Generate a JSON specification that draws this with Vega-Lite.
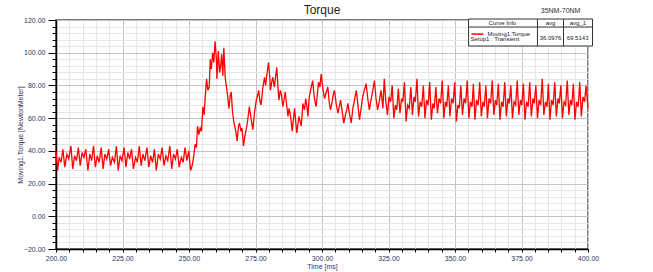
{
"$schema": "https://vega.github.io/schema/vega-lite/v6.json",
"width": 532,
"height": 229,
"autosize": "none",
"padding": {"left": 56, "top": 20, "right": 65, "bottom": 23},
"background": "white",
"config": {"view": {"stroke": "#4d4d4d", "strokeWidth": 1.5}, "font": "Liberation Sans"},
"title": {"text": "Torque", "fontSize": 12, "fontWeight": "normal", "color": "#222222", "anchor": "middle", "offset": -10, "frame": "group", "font": "Liberation Sans"},
"layer": [
{
"data": {"values": [
{"t":200.0,"v":40},{"t":200.6,"v":28},{"t":201.2,"v":36},{"t":201.9,"v":33},{"t":202.6,"v":41},{"t":203.3,"v":30},{"t":204.1,"v":38},{"t":204.8,"v":35},{"t":205.6,"v":43},{"t":206.3,"v":29},{"t":207.0,"v":37},{"t":207.7,"v":34},{"t":208.4,"v":42},{"t":209.1,"v":31},{"t":209.8,"v":39},{"t":210.5,"v":36},{"t":211.2,"v":41},{"t":212.0,"v":28},{"t":212.7,"v":38},{"t":213.4,"v":34},{"t":214.1,"v":43},{"t":214.8,"v":30},{"t":215.5,"v":37},{"t":216.2,"v":33},{"t":217.0,"v":42},{"t":217.7,"v":29},{"t":218.4,"v":38},{"t":219.1,"v":35},{"t":219.8,"v":41},{"t":220.5,"v":31},{"t":221.2,"v":36},{"t":222.0,"v":33},{"t":222.7,"v":43},{"t":223.4,"v":28},{"t":224.1,"v":37},{"t":224.8,"v":34},{"t":225.6,"v":42},{"t":226.3,"v":30},{"t":227.0,"v":39},{"t":227.7,"v":35},{"t":228.4,"v":41},{"t":229.1,"v":29},{"t":229.9,"v":36},{"t":230.6,"v":33},{"t":231.3,"v":43},{"t":232.0,"v":31},{"t":232.7,"v":38},{"t":233.4,"v":34},{"t":234.2,"v":42},{"t":234.9,"v":30},{"t":235.6,"v":37},{"t":236.3,"v":33},{"t":237.0,"v":41},{"t":237.7,"v":28},{"t":238.5,"v":38},{"t":239.2,"v":35},{"t":239.9,"v":42},{"t":240.6,"v":31},{"t":241.3,"v":37},{"t":242.0,"v":34},{"t":242.8,"v":43},{"t":243.5,"v":29},{"t":244.2,"v":38},{"t":244.9,"v":35},{"t":245.6,"v":41},{"t":246.3,"v":30},{"t":247.1,"v":36},{"t":247.8,"v":33},{"t":248.5,"v":42},{"t":249.2,"v":34},{"t":249.9,"v":40},{"t":250.6,"v":28},{"t":251.2,"v":31},
{"t":251.8,"v":37},{"t":252.3,"v":44},{"t":252.8,"v":42},{"t":253.2,"v":55},{"t":253.7,"v":50},{"t":254.2,"v":54},{"t":254.7,"v":52},{"t":255.2,"v":67},{"t":255.7,"v":62},{"t":256.1,"v":73},{"t":256.6,"v":84},{"t":257.1,"v":77},{"t":257.6,"v":79},{"t":258.0,"v":96},{"t":258.4,"v":90},{"t":258.9,"v":100},{"t":259.3,"v":94},{"t":259.8,"v":107},{"t":260.3,"v":96},{"t":260.5,"v":84},{"t":261.0,"v":101},{"t":261.5,"v":88},{"t":261.9,"v":92},{"t":262.3,"v":99},{"t":262.7,"v":86},{"t":263.1,"v":103},{"t":263.6,"v":85},{"t":264.0,"v":80},{"t":264.5,"v":74},{"t":265.0,"v":66},{"t":265.5,"v":74},{"t":265.9,"v":76},{"t":266.3,"v":65},{"t":266.8,"v":58},{"t":267.2,"v":55},{"t":267.7,"v":51},{"t":268.1,"v":46},{"t":268.6,"v":55},{"t":269.0,"v":57},{"t":269.5,"v":52},{"t":269.9,"v":54},{"t":270.5,"v":43},{"t":271.0,"v":49},{"t":271.5,"v":53},{"t":272.0,"v":58},{"t":272.7,"v":67},{"t":273.3,"v":60},{"t":274.0,"v":53},{"t":274.6,"v":63},{"t":275.3,"v":71},{"t":275.8,"v":74},{"t":276.2,"v":77},{"t":276.7,"v":70},{"t":277.1,"v":68},{"t":277.7,"v":78},{"t":278.4,"v":85},{"t":278.8,"v":80},{"t":279.3,"v":87},{"t":279.9,"v":94},{"t":280.4,"v":84},{"t":280.6,"v":77},{"t":281.1,"v":82},{"t":281.5,"v":85},{"t":282.1,"v":79},{"t":282.6,"v":86},{"t":283.0,"v":91},{"t":283.4,"v":80},{"t":283.8,"v":71},{"t":284.3,"v":77},{"t":284.7,"v":75},{"t":285.3,"v":67},{"t":285.8,"v":72},{"t":286.2,"v":76},{"t":286.7,"v":68},{"t":287.2,"v":61},{"t":287.6,"v":66},{"t":288.0,"v":63},{"t":288.5,"v":57},{"t":288.8,"v":52},{"t":289.3,"v":60},{"t":289.7,"v":66},{"t":290.1,"v":58},{"t":290.5,"v":51},{"t":291.0,"v":57},{"t":291.3,"v":61},{"t":291.8,"v":58},{"t":292.2,"v":55},{"t":292.8,"v":69},{"t":293.4,"v":65},{"t":293.9,"v":72},{"t":294.4,"v":66},{"t":294.7,"v":61},{"t":295.2,"v":73},{"t":295.7,"v":77},{"t":296.1,"v":80},{"t":296.5,"v":83},{"t":297.0,"v":74},{"t":297.4,"v":70},{"t":297.8,"v":67},{"t":298.2,"v":74},{"t":298.7,"v":82},{"t":299.2,"v":79},{"t":299.7,"v":87},{"t":300.3,"v":78},{"t":301.0,"v":72},{"t":301.6,"v":76},{"t":302.2,"v":79},{"t":302.7,"v":70},{"t":303.2,"v":65},{"t":303.8,"v":70},{"t":304.2,"v":74},{"t":304.7,"v":77},{"t":305.3,"v":69},{"t":306.0,"v":63},{"t":306.5,"v":67},{"t":307.0,"v":71},{"t":307.6,"v":64},{"t":308.2,"v":57},{"t":308.8,"v":62},{"t":309.3,"v":65},{"t":309.7,"v":69},{"t":310.4,"v":62},{"t":311.0,"v":57},{"t":311.6,"v":66},{"t":312.2,"v":71},{"t":312.9,"v":77},{"t":313.5,"v":68},{"t":314.1,"v":59},{"t":314.7,"v":66},{"t":315.3,"v":73},{"t":315.9,"v":77},{"t":316.6,"v":81},{"t":317.2,"v":72},{"t":317.8,"v":65},{"t":318.4,"v":71},{"t":319.0,"v":76},{"t":319.7,"v":83},{"t":320.3,"v":72},{"t":320.9,"v":65},{"t":321.5,"v":70},{"t":322.2,"v":77},
{"t":322.9,"v":66},{"t":323.4,"v":84},{"t":324.0,"v":70},{"t":324.6,"v":62},{"t":325.2,"v":73},{"t":325.8,"v":70},{"t":326.4,"v":80},{"t":327.0,"v":60},{"t":327.6,"v":68},{"t":328.1,"v":65},{"t":328.7,"v":78},{"t":329.3,"v":63},{"t":329.9,"v":72},{"t":330.4,"v":70},{"t":331.0,"v":82},{"t":331.6,"v":58},{"t":332.2,"v":68},{"t":332.8,"v":66},{"t":333.4,"v":79},{"t":334.0,"v":62},{"t":334.6,"v":73},{"t":335.1,"v":70},{"t":335.7,"v":84},{"t":336.3,"v":61},{"t":336.9,"v":70},{"t":337.5,"v":67},{"t":338.1,"v":80},{"t":338.7,"v":60},{"t":339.3,"v":71},{"t":339.9,"v":68},{"t":340.5,"v":82},{"t":341.1,"v":59},{"t":341.7,"v":69},{"t":342.2,"v":66},{"t":342.8,"v":79},{"t":343.4,"v":63},{"t":344.0,"v":72},{"t":344.6,"v":69},{"t":345.2,"v":83},{"t":345.8,"v":60},{"t":346.4,"v":70},{"t":346.9,"v":67},{"t":347.5,"v":80},{"t":348.1,"v":61},{"t":348.7,"v":72},{"t":349.3,"v":69},{"t":349.9,"v":82},{"t":350.5,"v":58},{"t":351.1,"v":68},{"t":351.6,"v":66},{"t":352.2,"v":80},{"t":352.8,"v":62},{"t":353.4,"v":72},{"t":354.0,"v":69},{"t":354.6,"v":83},{"t":355.2,"v":60},{"t":355.8,"v":70},{"t":356.4,"v":67},{"t":356.9,"v":81},{"t":357.5,"v":59},{"t":358.1,"v":71},{"t":358.7,"v":68},{"t":359.3,"v":82},{"t":359.9,"v":61},{"t":360.5,"v":70},{"t":361.0,"v":67},{"t":361.6,"v":80},{"t":362.2,"v":60},{"t":362.8,"v":72},{"t":363.4,"v":69},{"t":364.0,"v":83},{"t":364.6,"v":62},{"t":365.2,"v":71},{"t":365.7,"v":68},{"t":366.3,"v":81},{"t":366.9,"v":59},{"t":367.5,"v":70},{"t":368.1,"v":67},{"t":368.7,"v":82},{"t":369.3,"v":61},{"t":369.9,"v":72},{"t":370.4,"v":69},{"t":371.0,"v":80},{"t":371.6,"v":60},{"t":372.2,"v":70},{"t":372.8,"v":68},{"t":373.4,"v":83},{"t":374.0,"v":62},{"t":374.6,"v":71},{"t":375.1,"v":68},{"t":375.7,"v":81},{"t":376.3,"v":59},{"t":376.9,"v":70},{"t":377.5,"v":67},{"t":378.1,"v":82},{"t":378.7,"v":61},{"t":379.3,"v":72},{"t":379.8,"v":69},{"t":380.4,"v":80},{"t":381.0,"v":60},{"t":381.6,"v":71},{"t":382.2,"v":68},{"t":382.8,"v":84},{"t":383.4,"v":62},{"t":384.0,"v":70},{"t":384.6,"v":67},{"t":385.1,"v":81},{"t":385.7,"v":59},{"t":386.3,"v":71},{"t":386.9,"v":68},{"t":387.5,"v":82},{"t":388.1,"v":61},{"t":388.7,"v":72},{"t":389.2,"v":69},{"t":389.8,"v":80},{"t":390.4,"v":60},{"t":391.0,"v":70},{"t":391.6,"v":68},{"t":392.2,"v":83},{"t":392.8,"v":62},{"t":393.4,"v":71},{"t":393.9,"v":68},{"t":394.5,"v":81},{"t":395.1,"v":59},{"t":395.7,"v":70},{"t":396.3,"v":67},{"t":396.9,"v":82},{"t":397.5,"v":61},{"t":398.1,"v":73},{"t":398.7,"v":70},{"t":399.3,"v":80},{"t":400.0,"v":66}
]},
"mark": {"type": "line", "color": "#ff0000", "strokeWidth": 1.3},
"encoding": {
"x": {"field": "t", "type": "quantitative", "scale": {"domain": [200, 400], "nice": false, "zero": false},
"axis": {"title": "Time [ms]", "values": [200,205,210,215,220,225,230,235,240,245,250,255,260,265,270,275,280,285,290,295,300,305,310,315,320,325,330,335,340,345,350,355,360,365,370,375,380,385,390,395,400], "tickCount": 200,
"grid": true, "gridColor": {"condition": {"test": "datum.value % 25 === 0", "value": "#c4c4c4"}, "value": "#e6e6e6"}, "gridWidth": 1,
"labelExpr": "datum.value % 25 === 0 ? format(datum.value, '.2f') : ''", "labelOverlap": false, "labelFlush": false,
"labelFontSize": 7, "labelColor": "#2e3560", "labelPadding": 2, "tickSize": 3, "tickColor": "#000000", "domainColor": "#000000", "domainWidth": 1.5,
"titleFontSize": 7, "titleColor": "#333377", "titleFontWeight": "normal", "titlePadding": 1}},
"y": {"field": "v", "type": "quantitative", "scale": {"domain": [-20, 120], "nice": false, "zero": false},
"axis": {"title": "Moving1.Torque [NewtonMeter]", "values": [-20,-16,-12,-8,-4,0,4,8,12,16,20,24,28,32,36,40,44,48,52,56,60,64,68,72,76,80,84,88,92,96,100,104,108,112,116,120], "tickCount": 200,
"grid": true, "gridColor": {"condition": {"test": "datum.value % 20 === 0", "value": "#c4c4c4"}, "value": "#e6e6e6"}, "gridWidth": 1,
"labelExpr": "datum.value % 20 === 0 ? format(datum.value, '.2f') : ''", "labelOverlap": false, "labelFlush": false,
"labelFontSize": 7, "labelColor": "#2e3560", "labelPadding": 3,
"tickSize": {"condition": {"test": "datum.value % 20 === 0", "value": 8}, "value": 4}, "tickColor": "#000000", "domainColor": "#000000", "domainWidth": 1.5,
"titleFontSize": 7, "titleColor": "#333355", "titleFontWeight": "normal", "titlePadding": 0}}
}
},
{
"data": {"values": [{"curve": "Moving1.Torque", "setup": "Setup1 : Transient", "avg": "36.0976", "avg_1": "69.5143", "note": "35NM-70NM"}]},
"layer": [
{"mark": {"type": "rect", "fill": "white", "stroke": "#333333", "strokeWidth": 1},
 "encoding": {"x": {"datum": 355.1, "type": "quantitative"}, "x2": {"datum": 401.7}, "y": {"datum": 120.6, "type": "quantitative"}, "y2": {"datum": 104.1}}},
{"mark": {"type": "rule", "stroke": "#333333", "strokeWidth": 1},
 "encoding": {"x": {"datum": 355.1, "type": "quantitative"}, "x2": {"datum": 401.7}, "y": {"datum": 115.7, "type": "quantitative"}}},
{"mark": {"type": "rule", "stroke": "#333333", "strokeWidth": 1},
 "encoding": {"x": {"datum": 381.0, "type": "quantitative"}, "y": {"datum": 120.6, "type": "quantitative"}, "y2": {"datum": 104.1}}},
{"mark": {"type": "rule", "stroke": "#333333", "strokeWidth": 1},
 "encoding": {"x": {"datum": 390.8, "type": "quantitative"}, "y": {"datum": 120.6, "type": "quantitative"}, "y2": {"datum": 104.1}}},
{"mark": {"type": "rule", "stroke": "#ff0000", "strokeWidth": 1.5},
 "encoding": {"x": {"datum": 356.2, "type": "quantitative"}, "x2": {"datum": 360.7}, "y": {"datum": 111.4, "type": "quantitative"}}},
{"mark": {"type": "text", "text": "Curve Info", "fontSize": 6, "color": "#222222", "align": "center", "baseline": "middle"},
 "encoding": {"x": {"datum": 367.8, "type": "quantitative"}, "y": {"datum": 117.9, "type": "quantitative"}}},
{"mark": {"type": "text", "text": "avg", "fontSize": 6, "color": "#222222", "align": "center", "baseline": "middle"},
 "encoding": {"x": {"datum": 385.9, "type": "quantitative"}, "y": {"datum": 117.9, "type": "quantitative"}}},
{"mark": {"type": "text", "text": "avg_1", "fontSize": 6, "color": "#222222", "align": "center", "baseline": "middle"},
 "encoding": {"x": {"datum": 396.2, "type": "quantitative"}, "y": {"datum": 117.9, "type": "quantitative"}}},
{"mark": {"type": "text", "fontSize": 6, "color": "#222222", "align": "left", "baseline": "middle"},
 "encoding": {"text": {"field": "curve"}, "x": {"datum": 362.2, "type": "quantitative"}, "y": {"datum": 111.3, "type": "quantitative"}}},
{"mark": {"type": "text", "fontSize": 6, "color": "#222222", "align": "left", "baseline": "middle"},
 "encoding": {"text": {"field": "setup"}, "x": {"datum": 355.8, "type": "quantitative"}, "y": {"datum": 108.2, "type": "quantitative"}}},
{"mark": {"type": "text", "fontSize": 6, "color": "#222222", "align": "center", "baseline": "middle"},
 "encoding": {"text": {"field": "avg"}, "x": {"datum": 385.9, "type": "quantitative"}, "y": {"datum": 109.2, "type": "quantitative"}}},
{"mark": {"type": "text", "fontSize": 6, "color": "#222222", "align": "center", "baseline": "middle"},
 "encoding": {"text": {"field": "avg_1"}, "x": {"datum": 396.1, "type": "quantitative"}, "y": {"datum": 109.2, "type": "quantitative"}}},
{"mark": {"type": "text", "fontSize": 7, "color": "#333333", "align": "center", "baseline": "middle"},
 "encoding": {"text": {"field": "note"}, "x": {"datum": 389.7, "type": "quantitative"}, "y": {"datum": 125.5, "type": "quantitative"}}}
]
}
]
}
